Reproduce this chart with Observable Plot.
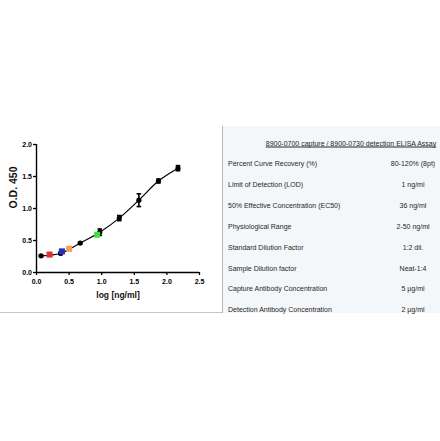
<!DOCTYPE html>
<html>
<head>
<meta charset="utf-8">
<script src="https://cdn.jsdelivr.net/npm/d3@7"></script>
<script src="https://cdn.jsdelivr.net/npm/@observablehq/plot@0.6"></script>
<style>
  html, body { margin: 0; padding: 0; background: #fff; }
  #wrap { position: relative; width: 440px; height: 441px; overflow: hidden; font-family: "Liberation Sans", Arial, sans-serif; }
  #table { position: absolute; left: 222px; top: 126px; width: 218px; height: 187px; background: #f4f7fa; border-left: 1px solid #b8b8b8; box-sizing: border-box; }
  .cell { position: absolute; font-size: 7px; color: #262626; white-space: nowrap; line-height: 1; transform: translateY(-50%); }
  #hline { position: absolute; left: 0; top: 312px; width: 222px; height: 1px; background: #c4c4c4; }
</style>
</head>
<body>
<div id="wrap"></div>
<script>
// Standard curve points (log concentration, O.D. 450, error)
const stdX = [0.07, 0.37, 0.67, 0.97, 1.27, 1.57, 1.87, 2.17];
const stdY = [0.26, 0.30, 0.46, 0.63, 0.85, 1.13, 1.43, 1.63];
const stdErr = [0.01, 0.02, 0.01, 0.05, 0.04, 0.10, 0.03, 0.04];
// Sample points
const sampleX = [0.20, 0.39, 0.50, 0.93];
const sampleY = [0.28, 0.33, 0.37, 0.59];
const sampleColors = ["#e03030", "#2030c0", "#f0a050", "#40e040"];
// Axis ticks
const xTicks = [0, 0.5, 1.0, 1.5, 2.0, 2.5];
const yTicks = [0, 0.5, 1.0, 1.5, 2.0];
// Table
const tableTitle = "8900-0700 capture / 8900-0730 detection ELISA Assay";
const tableLabels = [
  "Percent Curve Recovery (%)",
  "Limit of Detection (LOD)",
  "50% Effective Concentration (EC50)",
  "Physiological Range",
  "Standard Dilution Factor",
  "Sample Dilution factor",
  "Capture Antibody Concentration",
  "Detection Antibody Concentration"
];
const tableValues = ["80-120% (8pt)", "1 ng/ml", "36 ng/ml", "2-50 ng/ml", "1:2 dil.", "Neat-1:4", "5 \u00b5g/ml", "2 \u00b5g/ml"];

const std = stdX.map((x, i) => ({x, y: stdY[i], e: stdErr[i]}));
const samples = sampleX.map((x, i) => ({x, y: sampleY[i], c: sampleColors[i]}));

const fmt = d3.format(".1f");
const capW = 0.035;

const chart = Plot.plot({
  width: 440,
  height: 441,
  marginLeft: 36,
  marginRight: 241,
  marginTop: 144,
  marginBottom: 169,
  style: {fontFamily: "Liberation Sans, Arial, sans-serif", background: "transparent"},
  x: {domain: [0, 2.5]},
  y: {domain: [0, 2]},
  marks: [
    Plot.axisX({ticks: xTicks, tickFormat: fmt, tickSize: 3, tickPadding: 4, fontSize: 7, fontWeight: "bold", label: null, stroke: "#000", strokeWidth: 1.3}),
    Plot.axisY({ticks: yTicks, tickFormat: fmt, tickSize: 3, tickPadding: 1.5, fontSize: 7, fontWeight: "bold", label: null, stroke: "#000", strokeWidth: 1.3}),
    Plot.ruleX([0], {stroke: "#000", strokeWidth: 1.4}),
    Plot.ruleY([0], {stroke: "#000", strokeWidth: 1.4}),
    Plot.text(["log [ng/ml]"], {x: 1.25, y: 0, dy: 25, fontSize: 8.5, fontWeight: "bold", fill: "#111", frameAnchor: "bottom"}),
    Plot.text(["O.D. 450"], {frameAnchor: "left", dx: -23, rotate: -90, fontSize: 10.5, fontWeight: "bold", fill: "#111"}),
    Plot.line(std, {x: "x", y: "y", curve: "catmull-rom", stroke: "#000", strokeWidth: 1.2}),
    Plot.ruleX(std, {x: "x", y1: d => d.y - d.e, y2: d => d.y + d.e, stroke: "#000", strokeWidth: 1.6}),
    Plot.link(std, {x1: d => d.x - capW, x2: d => d.x + capW, y1: d => d.y + d.e, y2: d => d.y + d.e, stroke: "#000", strokeWidth: 1.6}),
    Plot.link(std, {x1: d => d.x - capW, x2: d => d.x + capW, y1: d => d.y - d.e, y2: d => d.y - d.e, stroke: "#000", strokeWidth: 1.6}),
    Plot.dot(std, {x: "x", y: "y", r: 2.6, fill: "#000"}),
    Plot.dot(samples, {x: "x", y: "y", r: 3.4, symbol: "square", fill: d => d.c})
  ]
});

const wrap = document.getElementById("wrap");
chart.style.position = "absolute";
chart.style.left = "0";
chart.style.top = "0";
wrap.appendChild(chart);

const hline = document.createElement("div");
hline.id = "hline";
wrap.appendChild(hline);

const table = document.createElement("div");
table.id = "table";
wrap.appendChild(table);

function addCell(text, left, top, opts = {}) {
  const el = document.createElement("div");
  el.className = "cell";
  el.textContent = text;
  el.style.top = top + "px";
  el.style.left = left + "px";
  if (opts.center) el.style.transform = "translate(-50%, -50%)";
  if (opts.underline) el.style.textDecoration = "underline";
  table.appendChild(el);
}
// positions relative to table (left 222, top 126)
addCell(tableTitle, 350 - 222, 143 - 126, {center: true, underline: true});
tableLabels.forEach((t, i) => {
  const yc = 163 + i * 20.9 - 126;
  addCell(t, 227 - 222, yc);
  addCell(tableValues[i], 412 - 222, yc, {center: true});
});
</script>
</body>
</html>
